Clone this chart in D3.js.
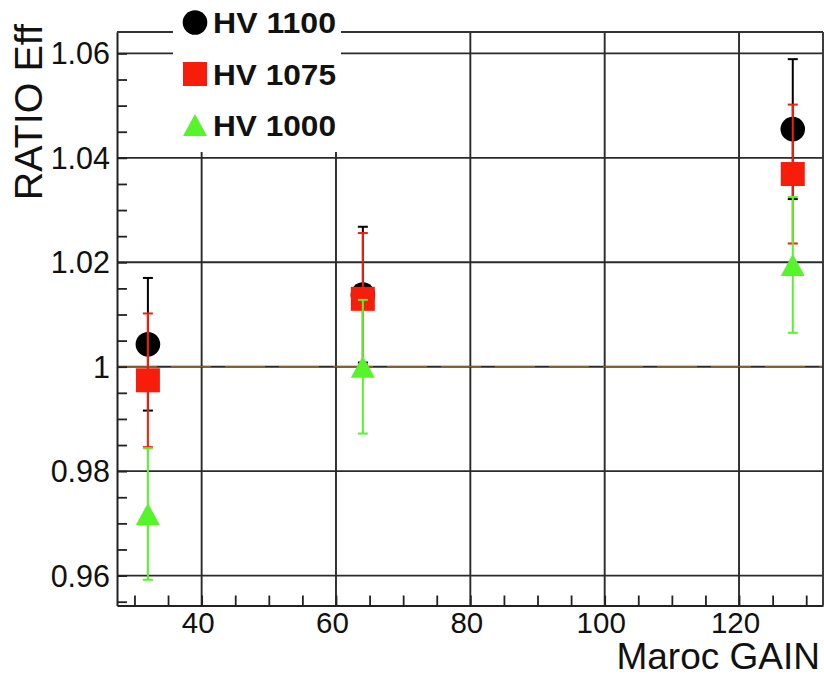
<!DOCTYPE html>
<html>
<head>
<meta charset="utf-8">
<script src="https://cdn.jsdelivr.net/npm/d3@7"></script>
<style>
  html, body { margin: 0; padding: 0; background: #fff; }
  svg { display: block; }
  text { font-family: "Liberation Sans", Arial, Helvetica, sans-serif; }
</style>
</head>
<body>
<svg id="chart" width="824" height="678"></svg>
<script>
// Maroc gain settings
const gains = [32, 64, 128];

// Efficiency ratio per HV setting, with symmetric errors
const hv1100 = [1.0043, 1.0138, 1.0455];
const hv1100Err = [0.0127, 0.0130, 0.0134];
const hv1075 = [0.9974, 1.0130, 1.0369];
const hv1075Err = [0.0128, 0.0126, 0.0133];
const hv1000 = [0.9718, 1.0000, 1.0195];
const hv1000Err = [0.0126, 0.0128, 0.0130];

const seriesNames = ["HV 1100", "HV 1075", "HV 1000"];

// Axis ticks
const xMajor = [40, 60, 80, 100, 120];
const xMinor = [30, 35, 40, 45, 50, 55, 60, 65, 70, 75, 80, 85, 90, 95, 100, 105, 110, 115, 120, 125, 130];
const yMajor = [0.96, 0.98, 1.00, 1.02, 1.04, 1.06];
const yMajorLabels = ["0.96", "0.98", "1", "1.02", "1.04", "1.06"];
const yMinor = [0.955, 0.96, 0.965, 0.97, 0.975, 0.98, 0.985, 0.99, 0.995, 1.0, 1.005, 1.01, 1.015,
                1.02, 1.025, 1.03, 1.035, 1.04, 1.045, 1.05, 1.055, 1.06];

const svg = d3.select("#chart");
const frame = { left: 117, right: 823, top: 32, bottom: 605.5 };

const x = d3.scaleLinear().domain([27.4, 132.5]).range([frame.left, frame.right]);
const y = d3.scaleLinear().domain([0.95427, 1.0641]).range([frame.bottom, frame.top]);

// Triangle centred on its bounding box (apex up)
const boxTriangle = {
  draw(ctx, size) {
    const w = Math.sqrt(size);
    const h = w * 0.92;
    ctx.moveTo(0, -h / 2);
    ctx.lineTo(w / 2, h / 2);
    ctx.lineTo(-w / 2, h / 2);
    ctx.closePath();
  }
};

const styles = [
  { color: "#000000", symbol: d3.symbolCircle, size: Math.PI * 12.3 * 12.3 },
  { color: "#f81d0a", symbol: d3.symbolSquare, size: 24 * 24 },
  { color: "#55f52a", symbol: boxTriangle, size: 24 * 24 }
];

const series = [
  { name: seriesNames[0], values: hv1100, errors: hv1100Err },
  { name: seriesNames[1], values: hv1075, errors: hv1075Err },
  { name: seriesNames[2], values: hv1000, errors: hv1000Err }
];

// Grid
const grid = svg.append("g").attr("stroke", "#2a2a2a").attr("stroke-width", 1.9);
grid.selectAll("line.v").data(xMajor).join("line")
  .attr("x1", d => x(d)).attr("x2", d => x(d))
  .attr("y1", frame.top).attr("y2", frame.bottom);
grid.selectAll("line.h").data(yMajor).join("line")
  .attr("x1", frame.left).attr("x2", frame.right)
  .attr("y1", d => y(d)).attr("y2", d => y(d));

// Reference line at ratio = 1
svg.append("line")
  .attr("x1", x(27.4)).attr("x2", x(132.5))
  .attr("y1", y(1)).attr("y2", y(1))
  .attr("stroke", "#e0a040").attr("stroke-width", 1).attr("stroke-dasharray", "40,14")
  .attr("opacity", 0.6);

// Axes with inward minor ticks
const xAxis = d3.axisBottom(x).tickValues(xMinor).tickSizeInner(-10).tickSizeOuter(0).tickFormat("");
svg.append("g").attr("transform", `translate(0,${frame.bottom})`).call(xAxis)
  .call(g => g.select(".domain").attr("stroke", "#222").attr("stroke-width", 2))
  .call(g => g.selectAll(".tick line").attr("stroke", "#222").attr("stroke-width", 1.8));

const yAxis = d3.axisLeft(y).tickValues(yMinor).tickSizeInner(-10).tickSizeOuter(0).tickFormat("");
svg.append("g").attr("transform", `translate(${frame.left},0)`).call(yAxis)
  .call(g => g.select(".domain").attr("stroke", "#222").attr("stroke-width", 2))
  .call(g => g.selectAll(".tick line").attr("stroke", "#222").attr("stroke-width", 1.8));

// Top and right frame edges
svg.append("line").attr("x1", frame.left).attr("x2", frame.right)
  .attr("y1", frame.top).attr("y2", frame.top).attr("stroke", "#333").attr("stroke-width", 1.9);
svg.append("line").attr("x1", frame.right).attr("x2", frame.right)
  .attr("y1", frame.top).attr("y2", frame.bottom).attr("stroke", "#333").attr("stroke-width", 1.9);

// Tick labels
svg.append("g").selectAll("text").data(xMajor).join("text")
  .attr("x", d => x(d) - 3.5).attr("y", 633)
  .attr("text-anchor", "middle").attr("font-size", 29.5).attr("fill", "#111")
  .text(d => d);
svg.append("g").selectAll("text").data(yMajor).join("text")
  .attr("x", 110).attr("y", d => y(d)).attr("dy", "0.36em")
  .attr("text-anchor", "end").attr("font-size", 30.5).attr("fill", "#111")
  .text((d, i) => yMajorLabels[i]);

// Axis titles
svg.append("text").attr("x", 820).attr("y", 669).attr("text-anchor", "end")
  .attr("font-size", 37).attr("fill", "#111").text("Maroc GAIN");
svg.append("text").attr("transform", "translate(42,24) rotate(-90)").attr("text-anchor", "end")
  .attr("font-size", 39.5).attr("fill", "#111").text("RATIO Eff");

// Data: error bars then markers, series by series
const capHalf = 5;
series.forEach((s, si) => {
  const st = styles[si];
  const g = svg.append("g");
  const pts = gains.map((gx, i) => ({ gx, v: s.values[i], e: s.errors[i] }));
  g.selectAll("line.bar").data(pts).join("line")
    .attr("x1", d => x(d.gx)).attr("x2", d => x(d.gx))
    .attr("y1", d => y(d.v + d.e)).attr("y2", d => y(d.v - d.e))
    .attr("stroke", st.color).attr("stroke-width", 2);
  g.selectAll("line.capTop").data(pts).join("line")
    .attr("x1", d => x(d.gx) - capHalf).attr("x2", d => x(d.gx) + capHalf)
    .attr("y1", d => y(d.v + d.e)).attr("y2", d => y(d.v + d.e))
    .attr("stroke", st.color).attr("stroke-width", 2);
  g.selectAll("line.capBot").data(pts).join("line")
    .attr("x1", d => x(d.gx) - capHalf).attr("x2", d => x(d.gx) + capHalf)
    .attr("y1", d => y(d.v - d.e)).attr("y2", d => y(d.v - d.e))
    .attr("stroke", st.color).attr("stroke-width", 2);
  g.selectAll("path.marker").data(pts).join("path")
    .attr("transform", d => `translate(${x(d.gx)},${y(d.v)})`)
    .attr("d", d3.symbol().type(st.symbol).size(st.size)())
    .attr("fill", st.color);
});

// Legend
const legend = svg.append("g");
legend.append("rect").attr("x", 173).attr("y", 0).attr("width", 168).attr("height", 152).attr("fill", "#fff");
const legendY = [22.5, 74, 125];
series.forEach((s, si) => {
  const st = styles[si];
  legend.append("path")
    .attr("transform", `translate(195,${legendY[si]})`)
    .attr("d", d3.symbol().type(st.symbol).size(st.size)())
    .attr("fill", st.color);
  legend.append("text").attr("x", 213).attr("y", legendY[si] + 10.5)
    .attr("font-size", 30).attr("font-weight", "bold").attr("fill", "#111")
    .attr("textLength", 123).attr("lengthAdjust", "spacingAndGlyphs")
    .text(s.name);
});
</script>
</body>
</html>
